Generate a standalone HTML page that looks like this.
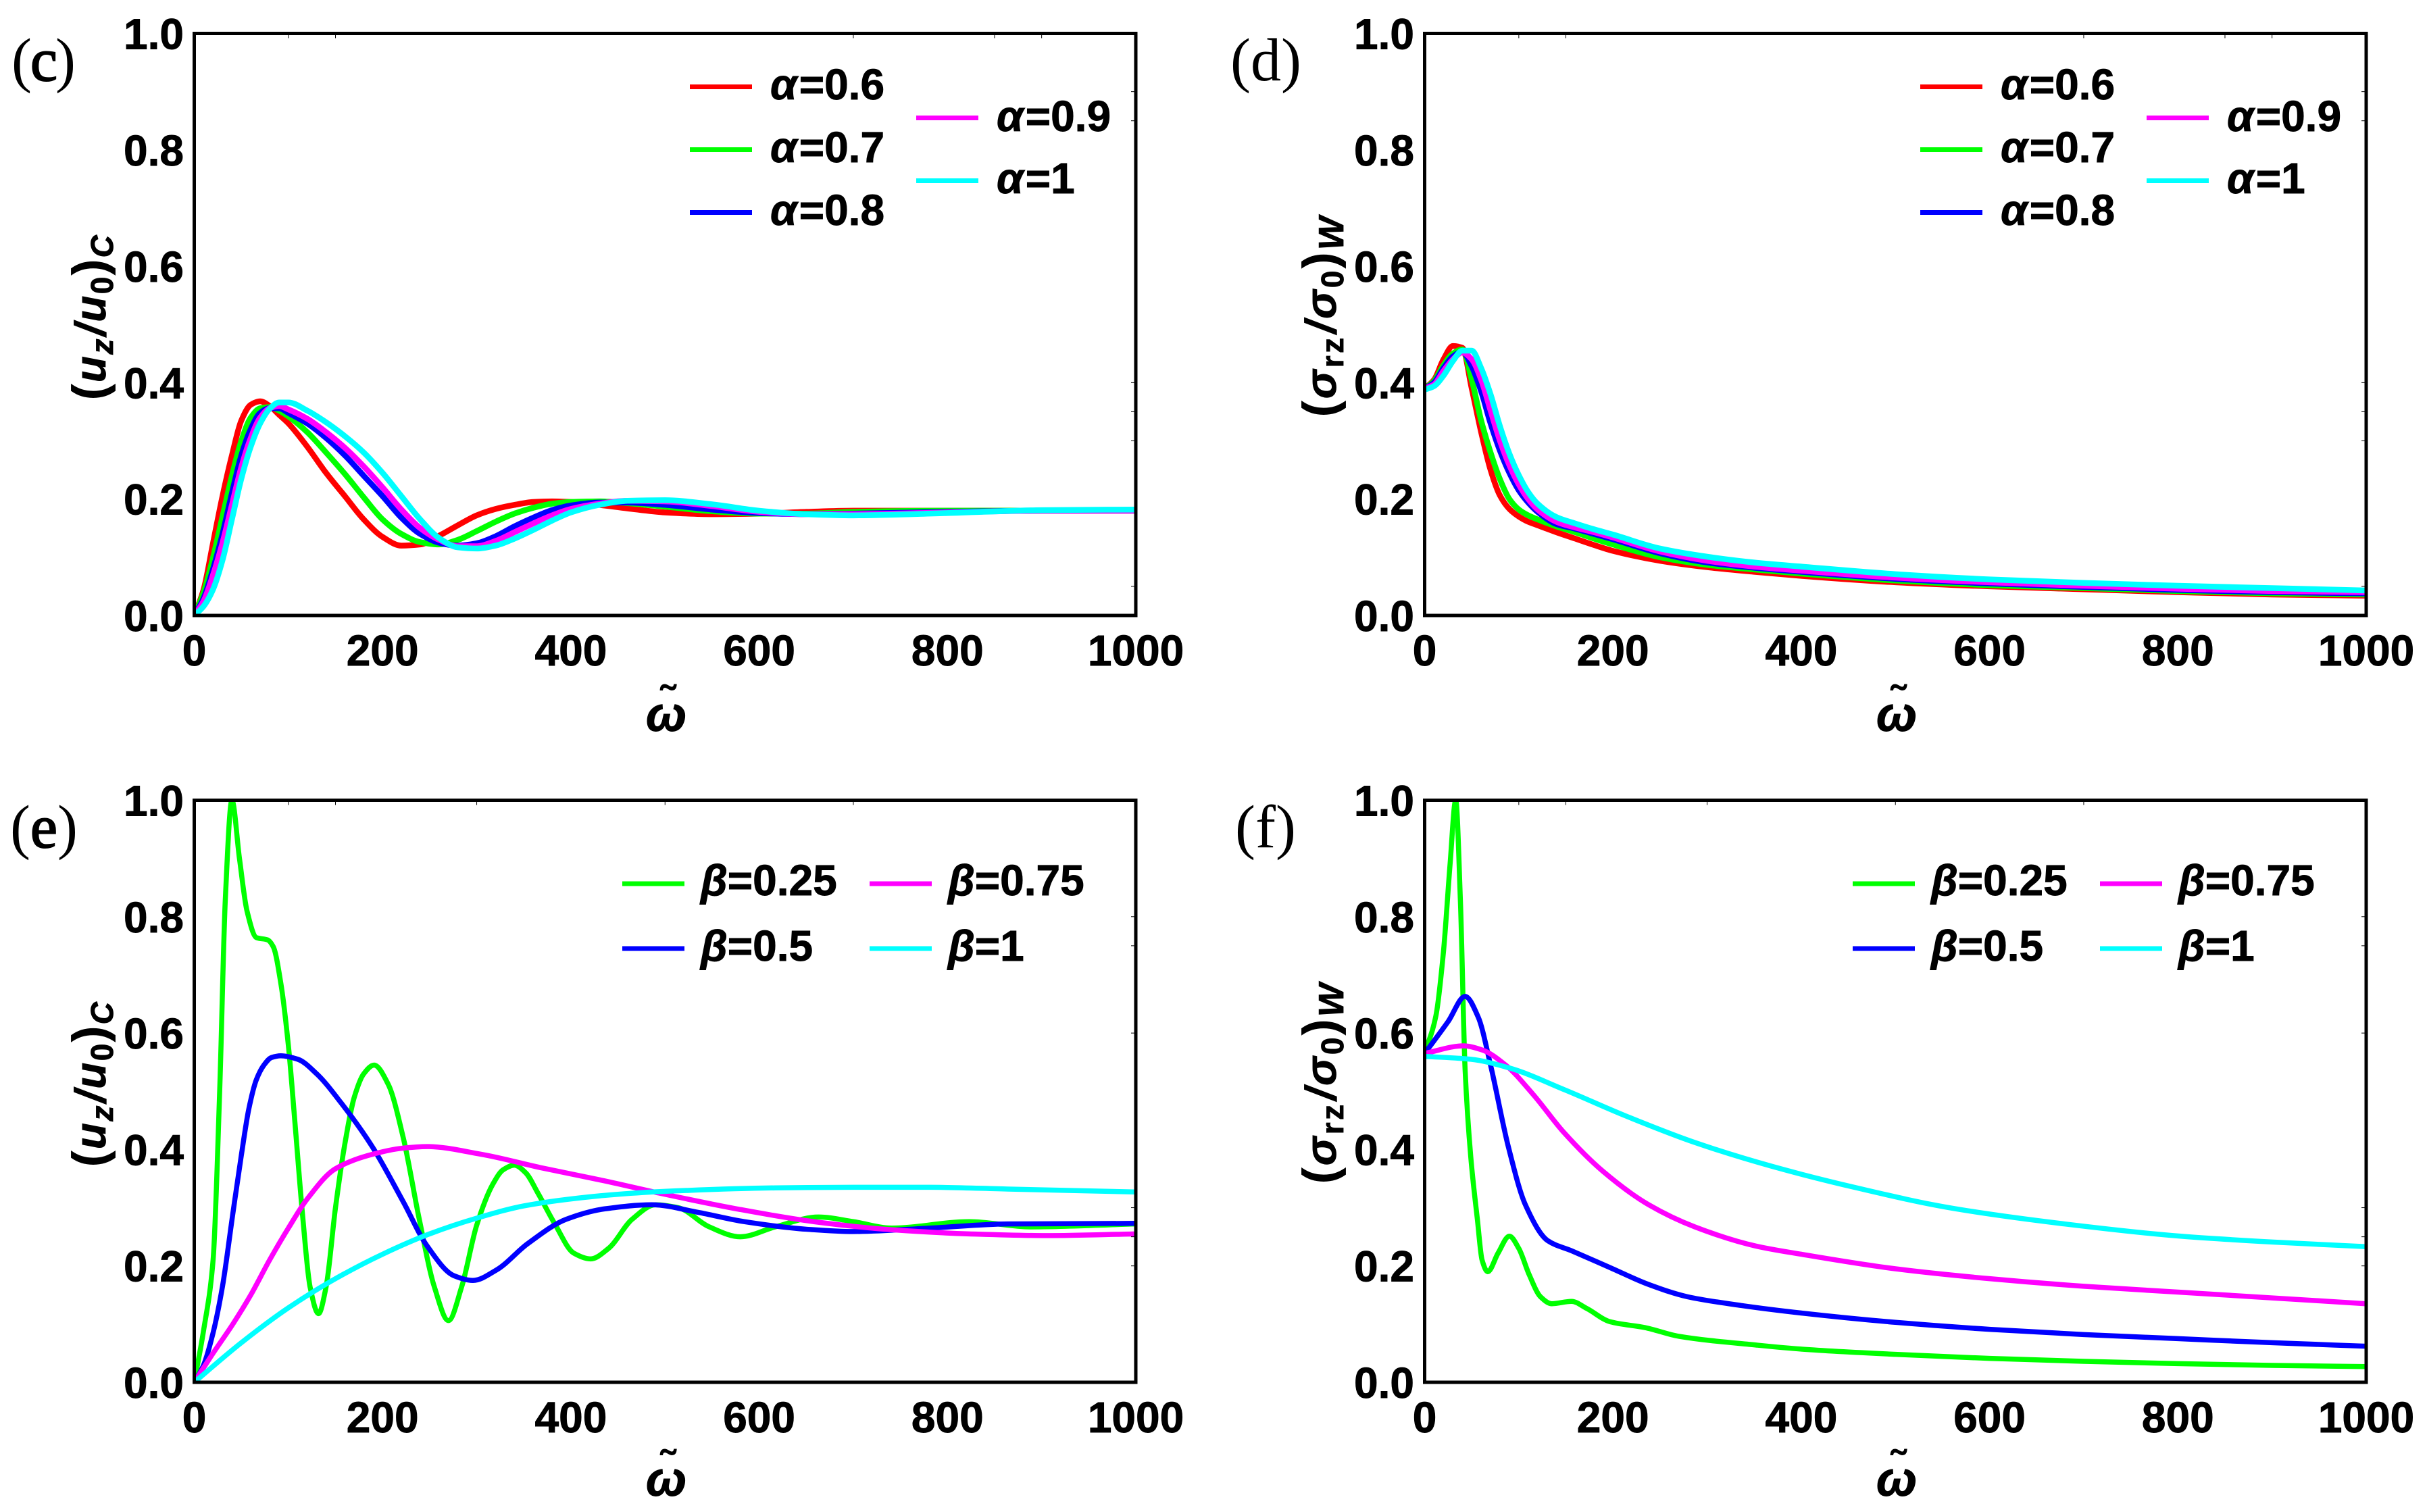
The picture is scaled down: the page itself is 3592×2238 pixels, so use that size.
<!DOCTYPE html>
<html lang="en">
<head>
<meta charset="utf-8">
<title>Frequency response panels (c)-(f)</title>
<style>
html,body{margin:0;padding:0;background:#fff;}
svg{display:block;}
text{font-family:"Liberation Sans","DejaVu Sans",sans-serif;font-weight:bold;fill:#000;}
.tk{font-size:64px;stroke:#000;stroke-width:0.9px;}
.lg{font-size:64px;stroke:#000;stroke-width:0.9px;}
.lg .g{font-style:italic;}
.pl{font-family:"Liberation Serif","DejaVu Serif",serif;font-weight:normal;font-size:90px;}
.pl .b{stroke:#000;stroke-width:2px;}
.yl{font-size:64px;stroke:#000;stroke-width:0.9px;letter-spacing:2.5px;}
.yl2{letter-spacing:3.5px;}
.yl .i{font-style:italic;}
.yl .s{font-size:46px;}
.yl .w{font-size:52px;}
.yl .p{font-size:70px;}
.om{font-size:72px;font-style:italic;stroke:#000;stroke-width:0.9px;}
.ti{font-size:66px;}
</style>
</head>
<body>
<svg id="fig" xmlns="http://www.w3.org/2000/svg" width="3592" height="2238" viewBox="0 0 3592 2238">
<rect width="3592" height="2238" fill="#fff"/>
<defs>
<clipPath id="plotClip"><rect x="287.5" y="49.5" width="1393.5" height="861.5"/></clipPath>
</defs>

<!-- PANEL C -->
<g id="panel-c">
  <text class="pl" x="17" y="119">(<tspan class="b" dx="-2">c</tspan><tspan dx="-3">)</tspan></text>
  <text class="yl" transform="translate(156,592) rotate(-90)"><tspan class="p">(</tspan><tspan class="i">u</tspan><tspan class="s i" dy="11">z</tspan><tspan dy="-11" dx="2" class="i">/u</tspan><tspan class="s" dy="11">0</tspan><tspan class="p" dy="-11">)</tspan><tspan class="s i" dy="11">C</tspan></text>
  <text class="om" x="986" y="1082" text-anchor="middle">ω</text>
  <text class="ti" x="988" y="1060" text-anchor="middle">˜</text>
  <g>
    <rect x="1021" y="125" width="92" height="7" fill="#ff0000"/>
    <text class="lg" x="1140" y="147"><tspan class="g">α</tspan><tspan dx="3">=0.6</tspan></text>
    <rect x="1021" y="218" width="92" height="7" fill="#00ff00"/>
    <text class="lg" x="1140" y="240"><tspan class="g">α</tspan><tspan dx="3">=0.7</tspan></text>
    <rect x="1021" y="311" width="92" height="7" fill="#0000ff"/>
    <text class="lg" x="1140" y="333"><tspan class="g">α</tspan><tspan dx="3">=0.8</tspan></text>
    <rect x="1356" y="171" width="92" height="7" fill="#ff00ff"/>
    <text class="lg" x="1475" y="194"><tspan class="g">α</tspan><tspan dx="3">=0.9</tspan></text>
    <rect x="1356" y="264" width="92" height="7" fill="#00ffff"/>
    <text class="lg" x="1475" y="286"><tspan class="g">α</tspan><tspan dx="3">=1</tspan></text>
  </g>
</g>

<!-- PANEL D -->
<g id="panel-d" transform="translate(1821,0)">
  <text class="pl" x="0" y="119">(d)</text>
  <text class="yl yl2" transform="translate(156,617) rotate(-90)"><tspan class="p">(</tspan><tspan class="i">σ</tspan><tspan class="s" dy="11">rz</tspan><tspan dy="-11" dx="3" class="i">/σ</tspan><tspan class="s" dy="11">0</tspan><tspan class="p" dy="-11">)</tspan><tspan class="w i" dy="11">W</tspan></text>
  <text class="om" x="986" y="1082" text-anchor="middle">ω</text>
  <text class="ti" x="988" y="1060" text-anchor="middle">˜</text>
  <g>
    <rect x="1021" y="125" width="92" height="7" fill="#ff0000"/>
    <text class="lg" x="1140" y="147"><tspan class="g">α</tspan><tspan dx="3">=0.6</tspan></text>
    <rect x="1021" y="218" width="92" height="7" fill="#00ff00"/>
    <text class="lg" x="1140" y="240"><tspan class="g">α</tspan><tspan dx="3">=0.7</tspan></text>
    <rect x="1021" y="311" width="92" height="7" fill="#0000ff"/>
    <text class="lg" x="1140" y="333"><tspan class="g">α</tspan><tspan dx="3">=0.8</tspan></text>
    <rect x="1356" y="171" width="92" height="7" fill="#ff00ff"/>
    <text class="lg" x="1475" y="194"><tspan class="g">α</tspan><tspan dx="3">=0.9</tspan></text>
    <rect x="1356" y="264" width="92" height="7" fill="#00ffff"/>
    <text class="lg" x="1475" y="286"><tspan class="g">α</tspan><tspan dx="3">=1</tspan></text>
  </g>
</g>

<!-- PANEL E -->
<g id="panel-e" transform="translate(0,1135)">
  <text class="pl" x="15" y="119">(<tspan class="b">e</tspan>)</text>
  <text class="yl" transform="translate(156,592) rotate(-90)"><tspan class="p">(</tspan><tspan class="i">u</tspan><tspan class="s i" dy="11">z</tspan><tspan dy="-11" dx="2" class="i">/u</tspan><tspan class="s" dy="11">0</tspan><tspan class="p" dy="-11">)</tspan><tspan class="s i" dy="11">C</tspan></text>
  <text class="om" x="986" y="1079" text-anchor="middle">ω</text>
  <text class="ti" x="988" y="1057" text-anchor="middle">˜</text>
  <g>
    <rect x="921" y="169.5" width="92" height="7" fill="#00ff00"/>
    <text class="lg" x="1037" y="190"><tspan class="g">β</tspan>=0.25</text>
    <rect x="921" y="265.5" width="92" height="7" fill="#0000ff"/>
    <text class="lg" x="1037" y="287"><tspan class="g">β</tspan>=0.5</text>
    <rect x="1287" y="169.5" width="92" height="7" fill="#ff00ff"/>
    <text class="lg" x="1403" y="190"><tspan class="g">β</tspan>=0.75</text>
    <rect x="1287" y="265.5" width="92" height="7" fill="#00ffff"/>
    <text class="lg" x="1403" y="287"><tspan class="g">β</tspan>=1</text>
  </g>
</g>

<!-- PANEL F -->
<g id="panel-f" transform="translate(1821,1135)">
  <text class="pl" x="7" y="119">(f)</text>
  <text class="yl yl2" transform="translate(156,617) rotate(-90)"><tspan class="p">(</tspan><tspan class="i">σ</tspan><tspan class="s" dy="11">rz</tspan><tspan dy="-11" dx="3" class="i">/σ</tspan><tspan class="s" dy="11">0</tspan><tspan class="p" dy="-11">)</tspan><tspan class="w i" dy="11">W</tspan></text>
  <text class="om" x="986" y="1079" text-anchor="middle">ω</text>
  <text class="ti" x="988" y="1057" text-anchor="middle">˜</text>
  <g>
    <rect x="921" y="169.5" width="92" height="7" fill="#00ff00"/>
    <text class="lg" x="1037" y="190"><tspan class="g">β</tspan>=0.25</text>
    <rect x="921" y="265.5" width="92" height="7" fill="#0000ff"/>
    <text class="lg" x="1037" y="287"><tspan class="g">β</tspan>=0.5</text>
    <rect x="1287" y="169.5" width="92" height="7" fill="#ff00ff"/>
    <text class="lg" x="1403" y="190"><tspan class="g">β</tspan>=0.75</text>
    <rect x="1287" y="265.5" width="92" height="7" fill="#00ffff"/>
    <text class="lg" x="1403" y="287"><tspan class="g">β</tspan>=1</text>
  </g>
</g>
</svg>

<script>
// Tick labels
const xTickValues = [0, 200, 400, 600, 800, 1000];
const xTickLabels = ['0', '200', '400', '600', '800', '1000'];
const yTickValues = [0, 0.2, 0.4, 0.6, 0.8, 1];
const yTickLabels = ['0.0', '0.2', '0.4', '0.6', '0.8', '1.0'];
const topTicksRow1 = [100, 150, 700, 850, 900];
const topTicksRow2 = [100, 150, 300, 500, 700];
const rightTicksRow1 = [0.9, 0.85, 0.4, 0.35, 0.3, 0.05];
const rightTicksRow2 = [0.8, 0.75, 0.6, 0.3, 0.25, 0.2];

// Panel C
const omegaC = [0,10,20,30,40,50,60,70,80,90,100,120,140,160,180,200,220,240,260,280,300,320,340,360,380,400,430,460,500,550,600,650,700,800,900,1000];
const cAlpha06 = [0,.045,.125,.205,.275,.335,.362,.368,.36,.345,.33,.29,.245,.205,.165,.135,.12,.122,.137,.155,.172,.183,.19,.195,.196,.195,.19,.184,.177,.174,.175,.178,.18,.18,.18,.18];
const cAlpha07 = [0,.04,.1,.17,.24,.3,.34,.356,.358,.352,.342,.315,.28,.243,.203,.165,.14,.126,.122,.13,.145,.161,.175,.185,.192,.195,.196,.193,.187,.179,.175,.175,.178,.18,.18,.18];
const cAlpha08 = [0,.03,.08,.14,.21,.275,.32,.348,.356,.356,.348,.33,.305,.275,.24,.205,.168,.14,.125,.12,.124,.136,.153,.168,.181,.189,.194,.194,.19,.182,.176,.174,.175,.178,.18,.18];
const cAlpha09 = [0,.025,.07,.125,.19,.255,.305,.34,.356,.36,.354,.338,.315,.288,.256,.22,.182,.15,.13,.119,.119,.128,.143,.158,.172,.183,.192,.197,.196,.188,.178,.174,.174,.177,.18,.18];
const cAlpha10 = [0,.016,.045,.095,.165,.235,.29,.33,.355,.366,.366,.352,.332,.308,.28,.245,.205,.165,.133,.117,.115,.12,.132,.147,.163,.177,.19,.197,.198,.191,.18,.174,.172,.176,.181,.182];

// Panel D
const omegaD = [0,10,20,30,40,50,60,70,80,90,100,110,120,140,160,180,200,250,300,350,400,500,600,700,800,900,1000];
const dAlpha06 = [.39,.405,.44,.463,.46,.39,.315,.25,.206,.183,.17,.161,.155,.143,.132,.121,.111,.094,.083,.075,.068,.057,.05,.045,.04,.036,.034];
const dAlpha07 = [.39,.403,.43,.45,.457,.405,.335,.28,.234,.2,.182,.172,.165,.153,.143,.132,.122,.1,.087,.079,.072,.06,.052,.047,.042,.038,.036];
const dAlpha08 = [.39,.4,.425,.445,.453,.428,.385,.33,.283,.245,.215,.194,.178,.157,.149,.14,.131,.107,.091,.082,.075,.063,.055,.049,.044,.04,.038];
const dAlpha09 = [.39,.397,.42,.44,.452,.44,.405,.352,.3,.258,.225,.2,.182,.161,.151,.143,.134,.11,.094,.084,.077,.065,.057,.051,.046,.042,.04];
const dAlpha10 = [.388,.394,.412,.437,.455,.455,.425,.38,.325,.278,.241,.212,.192,.169,.158,.148,.139,.115,.101,.091,.084,.071,.062,.056,.051,.047,.043];

// Panel E
const eOmega025 = [0,10,20,27,33,40,48,56,66,78,84,92,100,107,115,123,132,140,150,160,170,180,191,206,222,239,255,270,284,300,317,328,340,352,365,383,403,421,440,465,490,514,547,580,617,663,700,741,823,889,1000];
const eBeta025 = [0,.09,.21,.5,.83,1,.9,.81,.764,.76,.748,.685,.578,.445,.288,.164,.118,.164,.3,.41,.49,.53,.545,.512,.42,.28,.164,.106,.164,.27,.34,.365,.373,.36,.325,.272,.222,.212,.23,.28,.305,.3,.267,.25,.267,.284,.276,.265,.276,.267,.272];
const eOmega05 = [0,10,20,30,41,50,58,66,74,82,92,110,130,156,189,222,247,276,296,321,354,395,436,486,535,584,650,700,782,864,1000];
const eBeta05 = [0,.03,.085,.165,.29,.39,.47,.52,.545,.558,.561,.555,.53,.48,.405,.31,.235,.183,.175,.193,.238,.28,.298,.305,.292,.276,.263,.259,.265,.272,.273];
const eOmega075 = [0,20,41,60,80,100,120,150,190,220,247,304,370,436,494,576,658,741,823,905,1000];
const eBeta075 = [0,.05,.1,.15,.21,.265,.315,.367,.392,.402,.405,.392,.368,.346,.325,.298,.276,.262,.255,.252,.255];
const eOmega100 = [0,50,100,150,200,250,300,350,400,450,500,617,700,782,864,1000];
const eBeta100 = [0,.068,.128,.178,.22,.255,.282,.303,.315,.323,.328,.334,.335,.335,.332,.327];

// Panel F
const fOmega025 = [0,12,20,27,33,38,43,49,56,61,67,78,90,100,111,123,135,156,172,197,234,270,352,400,500,600,700,800,900,1000];
const fBeta025 = [.565,.63,.74,.89,1,.826,.536,.387,.28,.21,.19,.222,.251,.23,.185,.147,.135,.139,.127,.104,.094,.079,.064,.057,.048,.041,.036,.032,.029,.027];
const fOmega05 = [0,25,43,57,70,89,107,131,156,197,238,279,336,400,500,600,700,800,900,1000];
const fBeta05 = [.565,.62,.663,.627,.545,.404,.305,.243,.226,.197,.168,.147,.132,.119,.103,.091,.082,.075,.068,.062];
const fOmega075 = [0,41,61,86,115,148,189,238,287,352,400,500,600,700,800,900,1000];
const fBeta075 = [.565,.578,.571,.545,.495,.429,.363,.305,.267,.234,.22,.195,.178,.165,.155,.145,.135];
const fOmega100 = [0,49,90,148,213,287,369,459,557,680,803,900,1000];
const fBeta100 = [.56,.555,.54,.503,.458,.412,.371,.334,.3,.272,.251,.241,.233];

const panelCSeries = [
  {name:'curve-alpha-0.6', color:'#ff0000', xs:omegaC, ys:cAlpha06},
  {name:'curve-alpha-0.7', color:'#00ff00', xs:omegaC, ys:cAlpha07},
  {name:'curve-alpha-0.8', color:'#0000ff', xs:omegaC, ys:cAlpha08},
  {name:'curve-alpha-0.9', color:'#ff00ff', xs:omegaC, ys:cAlpha09},
  {name:'curve-alpha-1', color:'#00ffff', xs:omegaC, ys:cAlpha10}
];
const panelDSeries = [
  {name:'curve-alpha-0.6', color:'#ff0000', xs:omegaD, ys:dAlpha06},
  {name:'curve-alpha-0.7', color:'#00ff00', xs:omegaD, ys:dAlpha07},
  {name:'curve-alpha-0.8', color:'#0000ff', xs:omegaD, ys:dAlpha08},
  {name:'curve-alpha-0.9', color:'#ff00ff', xs:omegaD, ys:dAlpha09},
  {name:'curve-alpha-1', color:'#00ffff', xs:omegaD, ys:dAlpha10}
];
const panelESeries = [
  {name:'curve-beta-0.25', color:'#00ff00', xs:eOmega025, ys:eBeta025},
  {name:'curve-beta-0.5', color:'#0000ff', xs:eOmega05, ys:eBeta05},
  {name:'curve-beta-0.75', color:'#ff00ff', xs:eOmega075, ys:eBeta075},
  {name:'curve-beta-1', color:'#00ffff', xs:eOmega100, ys:eBeta100}
];
const panelFSeries = [
  {name:'curve-beta-0.25', color:'#00ff00', xs:fOmega025, ys:fBeta025},
  {name:'curve-beta-0.5', color:'#0000ff', xs:fOmega05, ys:fBeta05},
  {name:'curve-beta-0.75', color:'#ff00ff', xs:fOmega075, ys:fBeta075},
  {name:'curve-beta-1', color:'#00ffff', xs:fOmega100, ys:fBeta100}
];

const NS = 'http://www.w3.org/2000/svg';
function xAt(v){ return 287.5 + v / 1000 * 1393.5; }
function yAt(v){ return 911 - v * 861.5; }

// Monotone cubic path through the data points
function curvePath(xs, ys){
  const px = xs.map(xAt), py = ys.map(yAt), n = px.length;
  const d = [], m = [];
  for (let i = 0; i < n - 1; i++) d.push((py[i+1]-py[i])/(px[i+1]-px[i]));
  m.push(d[0]);
  for (let i = 1; i < n - 1; i++) {
    if (d[i-1]*d[i] <= 0) { m.push(0); }
    else {
      const h0 = px[i]-px[i-1], h1 = px[i+1]-px[i];
      m.push(3*(h0+h1)/((2*h1+h0)/d[i-1]+(h1+2*h0)/d[i]));
    }
  }
  m.push(d[n-2]);
  let s = 'M' + px[0].toFixed(2) + ' ' + py[0].toFixed(2);
  for (let i = 0; i < n - 1; i++) {
    const h = (px[i+1]-px[i])/3;
    s += 'C' + (px[i]+h).toFixed(2) + ' ' + (py[i]+m[i]*h).toFixed(2) + ' ' +
         (px[i+1]-h).toFixed(2) + ' ' + (py[i+1]-m[i+1]*h).toFixed(2) + ' ' +
         px[i+1].toFixed(2) + ' ' + py[i+1].toFixed(2);
  }
  return s;
}

function buildPanel(id, series, width, topTicks, rightTicks){
  const g = document.getElementById(id);

  const curves = document.createElementNS(NS, 'g');
  
  
  curves.setAttribute('clip-path', 'url(#plotClip)');
  series.forEach(function(s){
    const el = document.createElementNS(NS, 'path');
    
    
    el.setAttribute('d', curvePath(s.xs, s.ys));
    el.setAttribute('fill', 'none');
    el.setAttribute('stroke', s.color);
    el.setAttribute('stroke-width', width);
    el.setAttribute('stroke-linejoin', 'round');
    curves.appendChild(el);
  });
  g.appendChild(curves);

  topTicks.forEach(function(v){
    const el = document.createElementNS(NS, 'line');
    
    
    el.setAttribute('x1', xAt(v)); el.setAttribute('x2', xAt(v));
    el.setAttribute('y1', yAt(1)); el.setAttribute('y2', yAt(1) + 7);
    el.setAttribute('stroke', '#000'); el.setAttribute('stroke-width', 1);
    g.appendChild(el);
  });
  rightTicks.forEach(function(v){
    const el = document.createElementNS(NS, 'line');
    
    
    el.setAttribute('x1', xAt(1000)); el.setAttribute('x2', xAt(1000) - 7);
    el.setAttribute('y1', yAt(v)); el.setAttribute('y2', yAt(v));
    el.setAttribute('stroke', '#000'); el.setAttribute('stroke-width', 1);
    g.appendChild(el);
  });

  const frame = document.createElementNS(NS, 'rect');
  
  
  frame.setAttribute('x', xAt(0)); frame.setAttribute('y', yAt(1));
  frame.setAttribute('width', xAt(1000) - xAt(0));
  frame.setAttribute('height', yAt(0) - yAt(1));
  frame.setAttribute('fill', 'none');
  frame.setAttribute('stroke', '#000');
  frame.setAttribute('stroke-width', 5);
  g.appendChild(frame);

  xTickValues.forEach(function(v, i){
    const el = document.createElementNS(NS, 'text');
    
    
    el.setAttribute('class', 'tk');
    el.setAttribute('x', xAt(v));
    el.setAttribute('y', yAt(0) + 74);
    el.setAttribute('text-anchor', 'middle');
    el.textContent = xTickLabels[i];
    g.appendChild(el);
  });
  yTickValues.forEach(function(v, i){
    const el = document.createElementNS(NS, 'text');
    
    
    el.setAttribute('class', 'tk');
    el.setAttribute('x', 272);
    el.setAttribute('y', yAt(v) + 23);
    el.setAttribute('text-anchor', 'end');
    el.textContent = yTickLabels[i];
    g.appendChild(el);
  });
}

buildPanel('panel-c', panelCSeries, 8.5, topTicksRow1, rightTicksRow1);
buildPanel('panel-d', panelDSeries, 8.5, topTicksRow1, rightTicksRow1);
buildPanel('panel-e', panelESeries, 7.5, topTicksRow2, rightTicksRow2);
buildPanel('panel-f', panelFSeries, 7.5, topTicksRow2, rightTicksRow2);
</script>
</body>
</html>
